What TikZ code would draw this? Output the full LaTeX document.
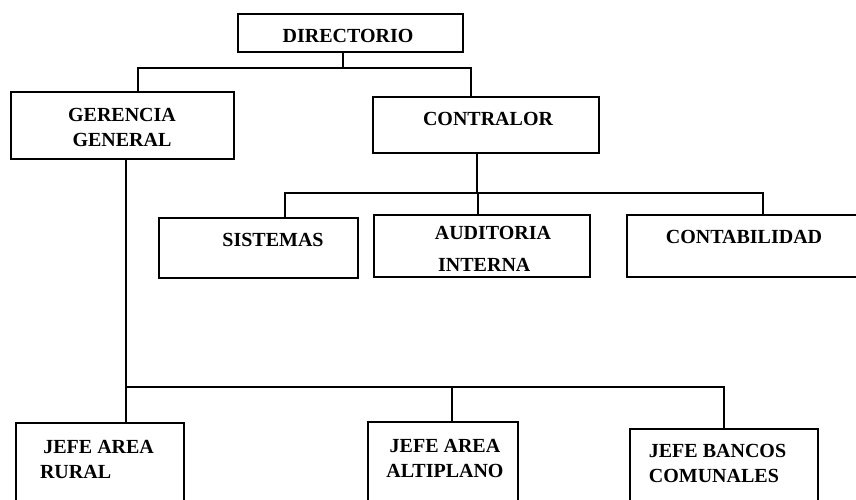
\documentclass[tikz,border=0pt]{standalone}
\usepackage{fontspec}
\setmainfont{Liberation Serif}
\usetikzlibrary{positioning}
\begin{document}
\begin{tikzpicture}[
  x=1pt,y=-1pt,
  font=\fontsize{20}{25}\selectfont\bfseries,
  box/.style={draw,line width=1.1pt,inner sep=0pt},
  txt/.style={inner sep=0pt,align=center},
  link/.style={line width=1.1pt}
]
\useasboundingbox (0,0) rectangle (856,499);
\clip (0,0) rectangle (856,499);

% boxes
\node[box,minimum width=225pt,minimum height=38pt] (dir) at (350.5,33) {};
\node[box,minimum width=223pt,minimum height=67pt] (ger) at (122.5,125.5) {};
\node[box,minimum width=226pt,minimum height=56pt] (con) at (486,125) {};
\node[box,minimum width=199pt,minimum height=60pt] (sis) at (258.5,248) {};
\node[box,minimum width=216pt,minimum height=62pt] (aud) at (482,246) {};
\node[box,minimum width=243pt,minimum height=62pt] (cont) at (748.5,246) {};
\node[box,minimum width=168pt,minimum height=92pt] (rur) at (100,469) {};
\node[box,minimum width=150pt,minimum height=92pt] (alt) at (443,468) {};
\node[box,minimum width=188pt,minimum height=86pt] (ban) at (724,472) {};

% texts
\node[txt] (dirt) at (348,36) {DIRECTORIO};
\node[txt] (gert) at (122,127) {GERENCIA\\GENERAL};
\node[txt] (cont1) at (488,119) {CONTRALOR};
\node[txt] (sist) at (273,240) {SISTEMAS};
\node[txt,align=left] (audt) at (493,249) {AUDITORIA\\[7pt]\,INTERNA};
\node[txt] (contt) at (744,237) {CONTABILIDAD};
\node[txt,align=left] (rurt) at (97,459.5) {\,JEFE AREA\\RURAL};
\node[txt] (altt) at (445,458) {JEFE AREA\\ALTIPLANO};
\node[txt,align=left] (bant) at (717.5,463) {JEFE BANCOS\\COMUNALES};

% connectors
\coordinate (dirbus) at (343,68);
\coordinate (dirL) at (138,68);
\coordinate (dirR) at (471,68);
\draw[link] (dir.south -| dirbus) -- (dirbus);
\draw[link] (ger.north -| dirL) -- (dirL) -- (dirR) -- (con.north -| dirR);

\coordinate (conbus) at (477,193);
\coordinate (conL) at (285,193);
\coordinate (conM) at (478,193);
\coordinate (conR) at (763,193);
\draw[link] (con.south -| conbus) -- (conbus);
\draw[link] (sis.north -| conL) -- (conL) -- (conR) -- (cont.north -| conR);
\draw[link] (conM) -- (aud.north -| conM);

\coordinate (gerbus) at (126,387);
\coordinate (gerM) at (452,387);
\coordinate (gerR) at (724,387);
\draw[link] (ger.south -| gerbus) -- (gerbus) -- (rur.north -| gerbus);
\draw[link] (gerbus) -- (gerR) -- (ban.north -| gerR);
\draw[link] (gerM) -- (alt.north -| gerM);
\end{tikzpicture}
\end{document}
